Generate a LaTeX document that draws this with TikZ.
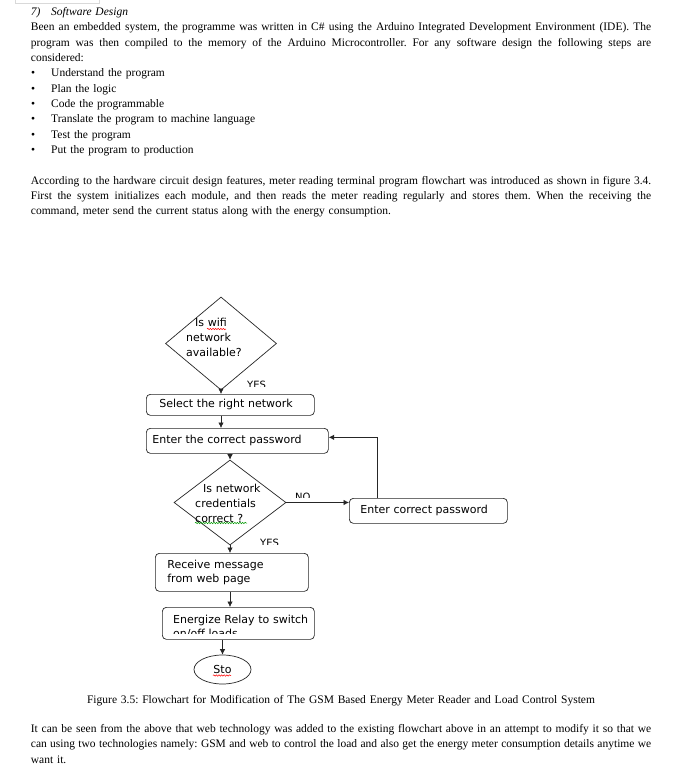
\documentclass[tikz,border=0pt]{standalone}
\usepackage{fontspec}
\setmainfont{Liberation Serif}
\newfontfamily\flowfont{DejaVu Sans}
\usetikzlibrary{arrows.meta,shapes.geometric,decorations.pathmorphing}
\newcommand{\fullline}[1]{\leavevmode\hbox to 620.3pt{\spaceskip=0pt\xspaceskip=0pt #1}}
\newcommand{\stepitem}[1]{\makebox[20.3pt][l]{\hspace{0.3pt}•}#1}

\begin{document}
\begin{tikzpicture}[x=1pt,y=1pt,
  bodytext/.style={anchor=base west, font=\fontsize{11.5}{15.35}\selectfont\frenchspacing, text width=620.3pt, align=left},
  flowbox/.style={draw=black!85, line width=0.7pt, rounded corners=4pt, anchor=north west, font=\flowfont\fontsize{11}{14.3}\selectfont, align=left},
  decision/.style={draw=black!85, line width=0.7pt, diamond},
  flowtext/.style={anchor=base west, font=\flowfont\fontsize{11}{15.3}\selectfont, align=left},
  answer/.style={anchor=base west, font=\flowfont\fontsize{10}{12}\selectfont},
  arr/.style={draw=black!85, line width=0.7pt, -{Latex[length=5.5pt,width=5.5pt]}},
  squiggle/.style={decorate, decoration={snake, amplitude=0.7pt, segment length=2.6pt}, line width=0.5pt}]
\tikzstyle{every node}+=[inner sep=0pt]
\fill [white] (0,0) rectangle (683,-775);
\useasboundingbox (0,0) rectangle (683,-775);
\draw [black!15] (15,1) -- (15,-3.3) -- (99,-3.3) -- (99,1);

\node [bodytext] (head) at (30.7,-15.7) {\makebox[20.3pt][l]{\textit{7)}}\textit{Software Design}};
\node [bodytext] (intro) at (30.7,-30.7) {\fullline{Been an embedded system, the programme was written in C\# using the Arduino Integrated Development Environment (IDE). The}\\
\fullline{program was then compiled to the memory of the Arduino Microcontroller. For any software design the following steps are}\\
considered:};
\node [bodytext] (steps) at (30.7,-76.7) {\stepitem{Understand the program}\\
\stepitem{Plan the logic}\\
\stepitem{Code the programmable}\\
\stepitem{Translate the program to machine language}\\
\stepitem{Test the program}\\
\stepitem{Put the program to production}};
\node [bodytext] (hardware) at (30.7,-184.3) {\fullline{According to the hardware circuit design features, meter reading terminal program flowchart was introduced as shown in figure 3.4.}\\
\fullline{First the system initializes each module, and then reads the meter reading regularly and stores them. When the receiving the}\\
command, meter send the current status along with the energy consumption.};

\node [decision, minimum width=111pt, minimum height=93pt] (wifi) at (221,-343.5) {};
\node [flowtext, text width=90pt] (wifitxt) at (186,-326) {\hspace*{9pt}Is wifi\\network\\available?};
\draw [squiggle, red] (207,-329) -- (226,-329);
\begin{scope}
\clip (240,-375) rectangle (290,-386.7);
\node [answer] (yes1) at (247,-388.3) {YES};
\end{scope}
\node [flowbox, minimum width=168pt, minimum height=21pt, text width=142pt, inner xsep=13pt] (sel) at (146,-394) {Select the right network};
\node [flowbox, minimum width=182pt, minimum height=25pt, text width=170pt, inner xsep=6pt] (pass) at (146,-428) {Enter the correct password};
\node [decision, minimum width=112pt, minimum height=85pt] (cred) at (230,-502.5) {};
\node [flowtext, text width=90pt] (credtxt) at (195,-492) {\hspace*{8pt}Is network\\credentials\\correct ?};
\draw [squiggle, green!60!black] (195,-523) -- (247,-523);
\begin{scope}
\clip (290,-485) rectangle (320,-497.3);
\node [answer] (no) at (295,-500) {NO};
\end{scope}
\begin{scope}
\clip (255,-530) rectangle (290,-544);
\node [answer] (yes2) at (260,-546) {YES};
\end{scope}
\node [flowbox, minimum width=158pt, minimum height=25pt, text width=136pt, inner xsep=11pt] (retry) at (349,-498) {Enter correct password};
\node [flowbox, minimum width=153pt, minimum height=38pt, text width=129pt, inner xsep=12pt] (recv) at (155,-553) {Receive message\\from web page};
\node [flowbox, minimum width=152pt, minimum height=32pt] (relay) at (162,-607) {};
\begin{scope}
\clip (162,-607) rectangle (314,-633.3);
\node [flowtext, text width=140pt, font=\flowfont\fontsize{11}{14}\selectfont] (relaytxt) at (173,-623) {Energize Relay to switch\\on/off loads};
\end{scope}
\node [draw=black!85, line width=0.7pt, ellipse, minimum width=57pt, minimum height=29pt, font=\flowfont\fontsize{11}{13}\selectfont] (stop) at (222.5,-669.5) {Sto};
\draw [squiggle, red] (213,-675.5) -- (231,-675.5);

\draw [arr] (wifi.south) -- (wifi.south |- sel.north);
\draw [arr] (sel.south -| wifi.south) -- (pass.north -| wifi.south);
\draw [arr] (pass.south -| cred.north) -- (cred.north);
\draw [arr] (cred.east) -- (cred.east -| retry.west);
\draw [arr] ([xshift=28pt]retry.north west) |- ([yshift=3.5pt]pass.east);
\draw [arr] (cred.south) -- (cred.south |- recv.north);
\draw [arr] (recv.south -| cred.south) -- (relay.north -| cred.south);
\draw [arr] (relay.south -| stop.north) -- (stop.north);

\node [bodytext, align=center] (caption) at (30.7,-703.2) {Figure 3.5: Flowchart for Modification of The GSM Based Energy Meter Reader and Load Control System};
\node [bodytext] (web) at (30.7,-732.6) {\fullline{It can be seen from the above that web technology was added to the existing flowchart above in an attempt to modify it so that we}\\
\fullline{can using two technologies namely: GSM and web to control the load and also get the energy meter consumption details anytime we}\\
want it.};
\end{tikzpicture}
\end{document}
